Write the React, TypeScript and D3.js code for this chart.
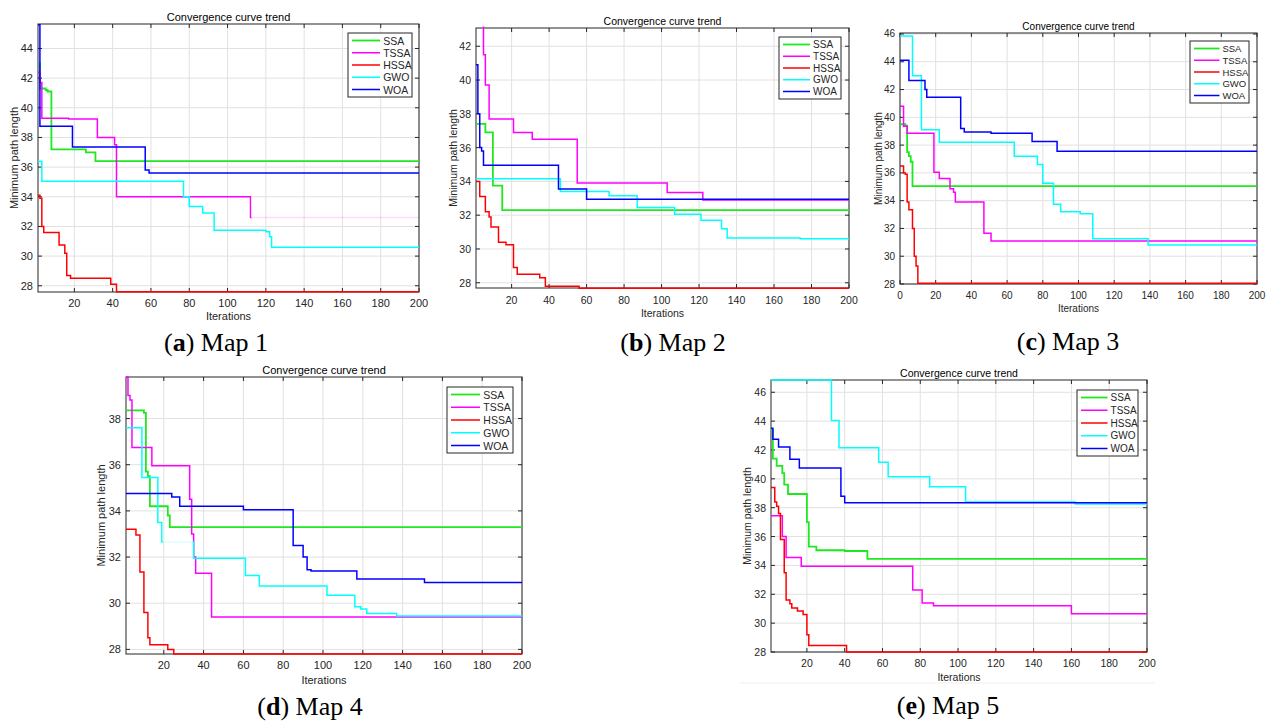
import * as d3 from 'd3';

type Pt = [number, number];

// legend / series order
const NAMES = ['SSA', 'TSSA', 'HSSA', 'GWO', 'WOA'];
const COLORS = ['#1fe81f', '#ff00ff', '#ff0000', '#00ffff', '#0000ff'];

// tick values
const xTicksA = [20, 40, 60, 80, 100, 120, 140, 160, 180, 200];
const xTicksC = [0, 20, 40, 60, 80, 100, 120, 140, 160, 180, 200];
const yTicks28to44 = [28, 30, 32, 34, 36, 38, 40, 42, 44];
const yTicks28to42 = [28, 30, 32, 34, 36, 38, 40, 42];
const yTicks28to46 = [28, 30, 32, 34, 36, 38, 40, 42, 44, 46];
const yTicks28to38 = [28, 30, 32, 34, 36, 38];

// Map 1  [iteration, best path length]
const m1SSA: Pt[] = [[1, 43], [2, 41.3], [5, 41.2], [6, 41.1], [8, 37.2], [26, 37.0], [31, 36.4], [200, 36.4]];
const m1TSSA: Pt[] = [[1, 42.4], [2, 41.7], [3, 39.3], [17, 39.25], [32, 38.0], [41, 37.5], [42, 34.0], [112, 32.6], [200, 32.6]];
const m1HSSA: Pt[] = [[1, 34.1], [2, 33.9], [3, 32.0], [4, 31.6], [12, 30.75], [15, 30.2], [16, 28.7], [18, 28.5], [39, 28.1], [42, 27.6], [200, 27.6]];
const m1GWO: Pt[] = [[1, 36.4], [3, 35.05], [77, 34.0], [80, 33.35], [87, 32.9], [93, 31.75], [120, 31.65], [122, 31.3], [123, 30.6], [200, 30.6]];
const m1WOA: Pt[] = [[1, 45.6], [2, 38.75], [19, 37.35], [57, 35.8], [59, 35.6], [200, 35.6]];

// Map 2
const m2SSA: Pt[] = [[1, 37.4], [6, 36.9], [10, 33.75], [15, 32.3], [200, 32.3]];
const m2TSSA: Pt[] = [[1, 43.5], [5, 41.5], [6, 39.7], [8, 37.7], [21, 36.9], [31, 36.5], [55, 33.9], [103, 33.35], [122, 32.9], [200, 32.9]];
const m2HSSA: Pt[] = [[1, 34.0], [3, 33.1], [6, 32.2], [8, 31.9], [9, 31.3], [13, 30.4], [17, 30.25], [21, 28.9], [23, 28.5], [35, 28.3], [38, 27.8], [56, 27.67], [200, 27.67]];
const m2GWO: Pt[] = [[1, 34.15], [46, 33.4], [72, 33.15], [87, 32.45], [107, 32.05], [121, 31.7], [132, 31.2], [135, 30.65], [174, 30.6], [200, 30.6]];
const m2WOA: Pt[] = [[1, 40.9], [2, 38.0], [3, 36.0], [4, 35.8], [5, 34.95], [45, 33.55], [60, 32.95], [200, 32.95]];

// Map 3
const m3SSA: Pt[] = [[0, 39.5], [3, 39.4], [4, 37.5], [5, 37.2], [6, 36.8], [7, 35.05], [200, 35.05]];
const m3TSSA: Pt[] = [[0, 40.8], [2, 39.35], [4, 38.85], [19, 36.05], [22, 35.6], [28, 34.85], [30, 34.6], [31, 33.9], [47, 31.65], [51, 31.1], [200, 31.1]];
const m3HSSA: Pt[] = [[0, 36.5], [2, 36.0], [3, 35.9], [4, 33.9], [5, 33.35], [7, 32.0], [8, 30.0], [9, 29.3], [10, 28.05], [200, 28.05]];
const m3GWO: Pt[] = [[0, 45.85], [7, 43.0], [12, 39.1], [22, 38.2], [64, 37.2], [77, 36.6], [80, 35.25], [86, 33.75], [90, 33.2], [101, 33.05], [108, 31.25], [139, 30.8], [200, 30.8]];
const m3WOA: Pt[] = [[0, 44.1], [5, 42.65], [14, 42.0], [15, 41.45], [34, 39.2], [36, 38.95], [51, 38.85], [74, 38.25], [88, 37.55], [200, 37.55]];

// Map 4
const m4SSA: Pt[] = [[1, 38.35], [10, 38.25], [11, 35.7], [12, 35.5], [13, 34.2], [22, 33.8], [23, 33.3], [200, 33.3]];
const m4TSSA: Pt[] = [[1, 39.8], [2, 39.0], [3, 38.8], [4, 36.75], [14, 35.95], [33, 34.5], [34, 33.0], [35, 32.0], [36, 31.3], [44, 29.4], [200, 29.4]];
const m4HSSA: Pt[] = [[1, 33.2], [6, 32.95], [8, 31.35], [10, 29.6], [12, 28.5], [13, 28.2], [22, 28.0], [25, 27.8], [200, 27.8]];
const m4GWO: Pt[] = [[1, 37.6], [9, 35.45], [17, 33.5], [19, 32.65], [35, 31.95], [61, 31.2], [68, 30.75], [102, 30.35], [116, 29.85], [119, 29.75], [122, 29.55], [137, 29.45], [200, 29.45]];
const m4WOA: Pt[] = [[1, 34.75], [24, 34.6], [28, 34.2], [60, 34.05], [85, 32.5], [90, 32.0], [92, 31.45], [94, 31.4], [117, 31.05], [151, 30.9], [200, 30.9]];

// Map 5
const m5SSA: Pt[] = [[1, 43.4], [2, 41.4], [4, 40.9], [7, 40.4], [8, 39.6], [10, 38.95], [20, 37.0], [21, 35.3], [25, 35.05], [40, 35.0], [52, 34.45], [200, 34.45]];
const m5TSSA: Pt[] = [[1, 37.45], [7, 36.0], [9, 34.55], [17, 33.95], [76, 32.3], [81, 31.4], [87, 31.2], [160, 30.65], [200, 30.65]];
const m5HSSA: Pt[] = [[1, 39.4], [3, 38.4], [4, 38.1], [5, 37.6], [6, 35.8], [8, 33.5], [9, 31.6], [11, 31.35], [12, 31.05], [15, 30.85], [18, 30.6], [20, 29.2], [21, 28.45], [41, 28.0], [200, 28.0]];
const m5GWO: Pt[] = [[1, 46.85], [33, 44.05], [37, 42.15], [58, 41.15], [63, 40.15], [85, 39.45], [104, 38.4], [162, 38.25], [200, 38.25]];
const m5WOA: Pt[] = [[1, 43.5], [2, 42.75], [5, 42.2], [11, 41.35], [16, 40.75], [38, 38.8], [40, 38.35], [200, 38.35]];

// stretches that show up washed out in the figure
const fadedA = [{ name: 'TSSA', from: 112.5, to: 200 }];
const fadedD = [{ name: 'GWO', from: 19.5, to: 34.5 }];

type Faded = { name: string; from: number; to: number };

interface PanelCfg {
  key: string;
  letter: string;
  caption: string;
  series: Pt[][];
  faded: Faded[];
  box: { l: number; r: number; t: number; b: number };
  xDomain: [number, number];
  yDomain: [number, number];
  xTicks: number[];
  yTicks: number[];
  fs: number;
  titleY: number;
  tickY: number;
  xlabY: number;
  ylabX: number;
  legend: { x: number; y: number; w: number; h: number };
  capX: number;
  capY: number;
}

const panels: PanelCfg[] = [
  {
    key: 'a', letter: 'a', caption: 'Map 1',
    series: [m1SSA, m1TSSA, m1HSSA, m1GWO, m1WOA], faded: fadedA,
    box: { l: 38, r: 419, t: 24, b: 292 }, xDomain: [1, 200], yDomain: [27.58, 45.65],
    xTicks: xTicksA, yTicks: yTicks28to44, fs: 11,
    titleY: 17, tickY: 303, xlabY: 316, ylabX: 14,
    legend: { x: 348, y: 33, w: 64, h: 64 }, capX: 216, capY: 351,
  },
  {
    key: 'b', letter: 'b', caption: 'Map 2',
    series: [m2SSA, m2TSSA, m2HSSA, m2GWO, m2WOA], faded: [],
    box: { l: 476, r: 849, t: 28, b: 288 }, xDomain: [1, 200], yDomain: [27.69, 43.08],
    xTicks: xTicksA, yTicks: yTicks28to42, fs: 10.5,
    titleY: 21, tickY: 300, xlabY: 313, ylabX: 453,
    legend: { x: 779, y: 37, w: 62, h: 62 }, capX: 673, capY: 351,
  },
  {
    key: 'c', letter: 'c', caption: 'Map 3',
    series: [m3SSA, m3TSSA, m3HSSA, m3GWO, m3WOA], faded: [],
    box: { l: 900, r: 1257, t: 33, b: 284 }, xDomain: [0, 200], yDomain: [28, 46.07],
    xTicks: xTicksC, yTicks: yTicks28to46, fs: 10,
    titleY: 26, tickY: 295, xlabY: 308, ylabX: 878,
    legend: { x: 1190, y: 41, w: 59, h: 62 }, capX: 1068, capY: 350,
  },
  {
    key: 'd', letter: 'd', caption: 'Map 4',
    series: [m4SSA, m4TSSA, m4HSSA, m4GWO, m4WOA], faded: fadedD,
    box: { l: 126, r: 522, t: 377, b: 654 }, xDomain: [1, 200], yDomain: [27.8, 39.8],
    xTicks: xTicksA, yTicks: yTicks28to38, fs: 11,
    titleY: 370, tickY: 665, xlabY: 680, ylabX: 101,
    legend: { x: 447, y: 387, w: 66, h: 66 }, capX: 310, capY: 715,
  },
  {
    key: 'e', letter: 'e', caption: 'Map 5',
    series: [m5SSA, m5TSSA, m5HSSA, m5GWO, m5WOA], faded: [],
    box: { l: 771, r: 1147, t: 380, b: 652 }, xDomain: [1, 200], yDomain: [28, 46.85],
    xTicks: xTicksA, yTicks: yTicks28to46, fs: 10.5,
    titleY: 373, tickY: 663, xlabY: 677, ylabX: 747,
    legend: { x: 1077, y: 390, w: 61, h: 66 }, capX: 948, capY: 714,
  },
];

const AX = '#262626';
const GRID = '#e1e1e1';
const SANS = '"Liberation Sans", Arial, sans-serif';

const Panel = ({ p }: { p: PanelCfg }) => {
  const { l, r, t, b } = p.box;
  const x = d3.scaleLinear().domain(p.xDomain).range([l, r]);
  const y = d3.scaleLinear().domain(p.yDomain).range([b, t]);
  const line = d3.line<Pt>().x(d => x(d[0])).y(d => y(d[1])).curve(d3.curveStepAfter);
  const tick = 4;
  const pad = 1.5; // lines may sit right on the frame, as in MATLAB
  const clipId = `clip-${p.key}`;

  return (
    <g>
      <defs>
        <clipPath id={clipId}>
          <rect x={l - pad} y={t - pad} width={r - l + 2 * pad} height={b - t + 2 * pad} />
        </clipPath>
        {NAMES.map(name => {
          const f = p.faded.find(q => q.name === name);
          if (!f) return null;
          return (
            <g key={name}>
              <clipPath id={`${clipId}-${name}-n`}>
                <rect x={l - pad} y={t - pad} width={x(f.from) - l + pad} height={b - t + 2 * pad} />
                <rect x={x(f.to)} y={t - pad} width={Math.max(0, r + pad - x(f.to))} height={b - t + 2 * pad} />
              </clipPath>
              <clipPath id={`${clipId}-${name}-f`}>
                <rect x={x(f.from)} y={t - pad} width={x(f.to) - x(f.from) + pad} height={b - t + 2 * pad} />
              </clipPath>
            </g>
          );
        })}
      </defs>

      <rect x={l} y={t} width={r - l} height={b - t} fill="#fff" />

      {/* grid */}
      {p.xTicks.map(v => (
        <line key={`gx${v}`} x1={x(v)} x2={x(v)} y1={t} y2={b} stroke={GRID} strokeWidth={1} />
      ))}
      {p.yTicks.map(v => (
        <line key={`gy${v}`} x1={l} x2={r} y1={y(v)} y2={y(v)} stroke={GRID} strokeWidth={1} />
      ))}

      {/* frame and ticks (under the data) */}
      <rect x={l} y={t} width={r - l} height={b - t} fill="none" stroke={AX} strokeWidth={1} />
      {p.xTicks.map(v => (
        <g key={`tx${v}`}>
          <line x1={x(v)} x2={x(v)} y1={b} y2={b - tick} stroke={AX} />
          <line x1={x(v)} x2={x(v)} y1={t} y2={t + tick} stroke={AX} />
          <text x={x(v)} y={p.tickY} fontSize={p.fs} fill={AX} textAnchor="middle" dominantBaseline="central" fontFamily={SANS}>
            {v}
          </text>
        </g>
      ))}
      {p.yTicks.map(v => (
        <g key={`ty${v}`}>
          <line x1={l} x2={l + tick} y1={y(v)} y2={y(v)} stroke={AX} />
          <line x1={r} x2={r - tick} y1={y(v)} y2={y(v)} stroke={AX} />
          <text x={l - 5} y={y(v)} fontSize={p.fs} fill={AX} textAnchor="end" dominantBaseline="central" fontFamily={SANS}>
            {v}
          </text>
        </g>
      ))}

      {/* curves */}
      {p.series.map((pts, i) => {
        const name = NAMES[i];
        const f = p.faded.find(q => q.name === name);
        const d = line(pts) || '';
        const w = i === 0 ? 1.8 : 1.5;
        if (!f) {
          return (
            <g key={name} clipPath={`url(#${clipId})`}>
              <path d={d} fill="none" stroke={COLORS[i]} strokeWidth={w} />
            </g>
          );
        }
        return (
          <g key={name}>
            <g clipPath={`url(#${clipId}-${name}-n)`}>
              <path d={d} fill="none" stroke={COLORS[i]} strokeWidth={w} />
            </g>
            <g clipPath={`url(#${clipId}-${name}-f)`}>
              <path d={d} fill="none" stroke={COLORS[i]} strokeWidth={w} opacity={0.15} />
            </g>
          </g>
        );
      })}

      {/* labels */}
      <text x={(l + r) / 2} y={p.titleY} fontSize={p.fs} fill="#000" textAnchor="middle" dominantBaseline="central" fontFamily={SANS}>
        Convergence curve trend
      </text>
      <text x={(l + r) / 2} y={p.xlabY} fontSize={p.fs} fill={AX} textAnchor="middle" dominantBaseline="central" fontFamily={SANS}>
        Iterations
      </text>
      <text
        transform={`translate(${p.ylabX},${(t + b) / 2}) rotate(-90)`}
        fontSize={p.fs}
        fill={AX}
        textAnchor="middle"
        dominantBaseline="central"
        fontFamily={SANS}
      >
        Minimum path length
      </text>

      {/* legend */}
      <rect x={p.legend.x} y={p.legend.y} width={p.legend.w} height={p.legend.h} fill="#fff" stroke={AX} strokeWidth={1} />
      {NAMES.map((name, i) => {
        const ly = p.legend.y + 7.5 + i * ((p.legend.h - 15) / 4);
        return (
          <g key={`lg${name}`}>
            <line x1={p.legend.x + 4} x2={p.legend.x + p.legend.w * 0.5} y1={ly} y2={ly} stroke={COLORS[i]} strokeWidth={i === 0 ? 1.8 : 1.5} />
            <text x={p.legend.x + p.legend.w * 0.55} y={ly} fontSize={p.fs - 0.5} fill={AX} dominantBaseline="central" fontFamily={SANS}>
              {name}
            </text>
          </g>
        );
      })}

      {/* caption */}
      <text x={p.capX} y={p.capY} fontSize={26} fill="#000" textAnchor="middle" fontFamily='"Liberation Serif", "Times New Roman", serif'>
        (<tspan fontWeight="bold">{p.letter}</tspan>) {p.caption}
      </text>
    </g>
  );
};

const App = () => {
  return (
    <svg
      width={1269}
      height={724}
      viewBox="0 0 1269 724"
      style={{ position: 'absolute', left: 0, top: 0, background: '#fff' }}
    >
      <rect x={0} y={0} width={1269} height={724} fill="#fff" />
      <line x1={740} x2={1155} y1={683} y2={683} stroke="#eeeeee" strokeWidth={1} />
      {panels.map(p => (
        <Panel key={p.key} p={p} />
      ))}
    </svg>
  );
};

export default App;
